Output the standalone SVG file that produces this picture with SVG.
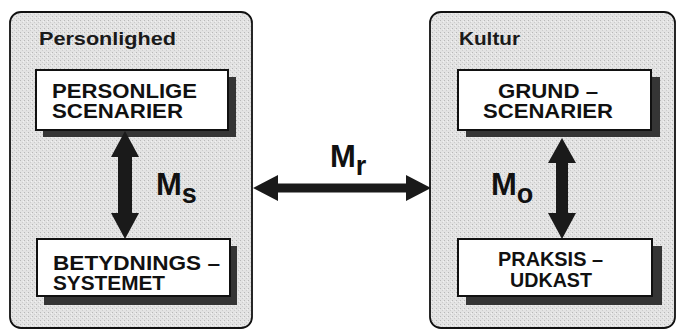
<svg xmlns="http://www.w3.org/2000/svg" width="677" height="331" viewBox="0 0 677 331">
  <defs>
    <pattern id="stip" width="4" height="4" patternUnits="userSpaceOnUse">
      <rect width="4" height="4" fill="#e3e3e3"/>
      <rect x="0" y="0" width="1" height="1" fill="#b8b8b8"/>
      <rect x="2" y="2" width="1" height="1" fill="#cccccc"/>
      <rect x="3" y="1" width="1" height="1" fill="#f2f2f2"/>
    </pattern>
    <style>
      .panel { fill: url(#stip); stroke: #111; stroke-width: 1.8; }
      .box { fill: #fff; stroke: #111; stroke-width: 2; }
      .shadow { fill: #353535; }
      .title { font-family: "Liberation Sans", Arial, sans-serif; font-weight: bold; font-size: 19px; fill: #1a1a1a; }
      .lbl { font-family: "Liberation Sans", Arial, sans-serif; font-weight: bold; font-size: 20px; fill: #111; }
      .m { font-family: "Liberation Sans", Arial, sans-serif; font-weight: bold; font-size: 31px; fill: #111; }
      .sub { font-size: 27px; }
      .arrow { fill: #1a1a1a; }
    </style>
  </defs>
  <rect width="677" height="331" fill="#fff"/>

  <g id="personlighed">
    <rect class="panel" x="10" y="12" width="242" height="316" rx="11"/>
    <text class="title" x="39" y="45" textLength="137" lengthAdjust="spacingAndGlyphs">Personlighed</text>
  </g>
  <g id="kultur">
    <rect class="panel" x="430" y="12" width="245" height="316" rx="11"/>
    <text class="title" x="459" y="45" textLength="61" lengthAdjust="spacingAndGlyphs">Kultur</text>
  </g>

  <g id="personlige-scenarier">
    <rect class="shadow" x="43" y="77" width="193" height="60"/>
    <rect class="box" x="36" y="70" width="192" height="60"/>
    <text class="lbl" x="52" y="98" textLength="145" lengthAdjust="spacingAndGlyphs">PERSONLIGE</text>
    <text class="lbl" x="52" y="118" textLength="131" lengthAdjust="spacingAndGlyphs">SCENARIER</text>
  </g>
  <g id="betydningssystemet">
    <rect class="shadow" x="44" y="246" width="193" height="59"/>
    <rect class="box" x="37" y="239" width="193" height="57"/>
    <text class="lbl" x="53" y="270" textLength="167" lengthAdjust="spacingAndGlyphs">BETYDNINGS –</text>
    <text class="lbl" x="53" y="290" textLength="112" lengthAdjust="spacingAndGlyphs">SYSTEMET</text>
  </g>
  <g id="grundscenarier">
    <rect class="shadow" x="466" y="77" width="194" height="60"/>
    <rect class="box" x="458" y="70" width="193" height="60"/>
    <text class="lbl" x="498" y="98" textLength="100" lengthAdjust="spacingAndGlyphs">GRUND –</text>
    <text class="lbl" x="483" y="118" textLength="130" lengthAdjust="spacingAndGlyphs">SCENARIER</text>
  </g>
  <g id="praksisudkast">
    <rect class="shadow" x="466" y="246" width="196" height="59"/>
    <rect class="box" x="458" y="239" width="194" height="57"/>
    <text class="lbl" x="498" y="266" textLength="105" lengthAdjust="spacingAndGlyphs">PRAKSIS –</text>
    <text class="lbl" x="510" y="287" textLength="82" lengthAdjust="spacingAndGlyphs">UDKAST</text>
  </g>

  <g id="connectors">
    <polygon class="arrow" points="125,131 139,157 132,157 132,213 139,213 125,239 111,213 118,213 118,157 111,157"/>
    <polygon class="arrow" points="562,138 576,163 568,163 568,213 576,213 562,239 548,213 556,213 556,163 548,163"/>
    <polygon class="arrow" points="253,188 278,175 278,183.5 406,183.5 406,175 431,188 406,201 406,192.5 278,192.5 278,201"/>
    <text class="m" x="156" y="195">M<tspan class="sub" dy="8">s</tspan></text>
    <text class="m" x="491" y="195">M<tspan class="sub" dy="8">o</tspan></text>
    <text class="m" x="330" y="167">M<tspan class="sub" dy="8">r</tspan></text>
  </g>
</svg>
